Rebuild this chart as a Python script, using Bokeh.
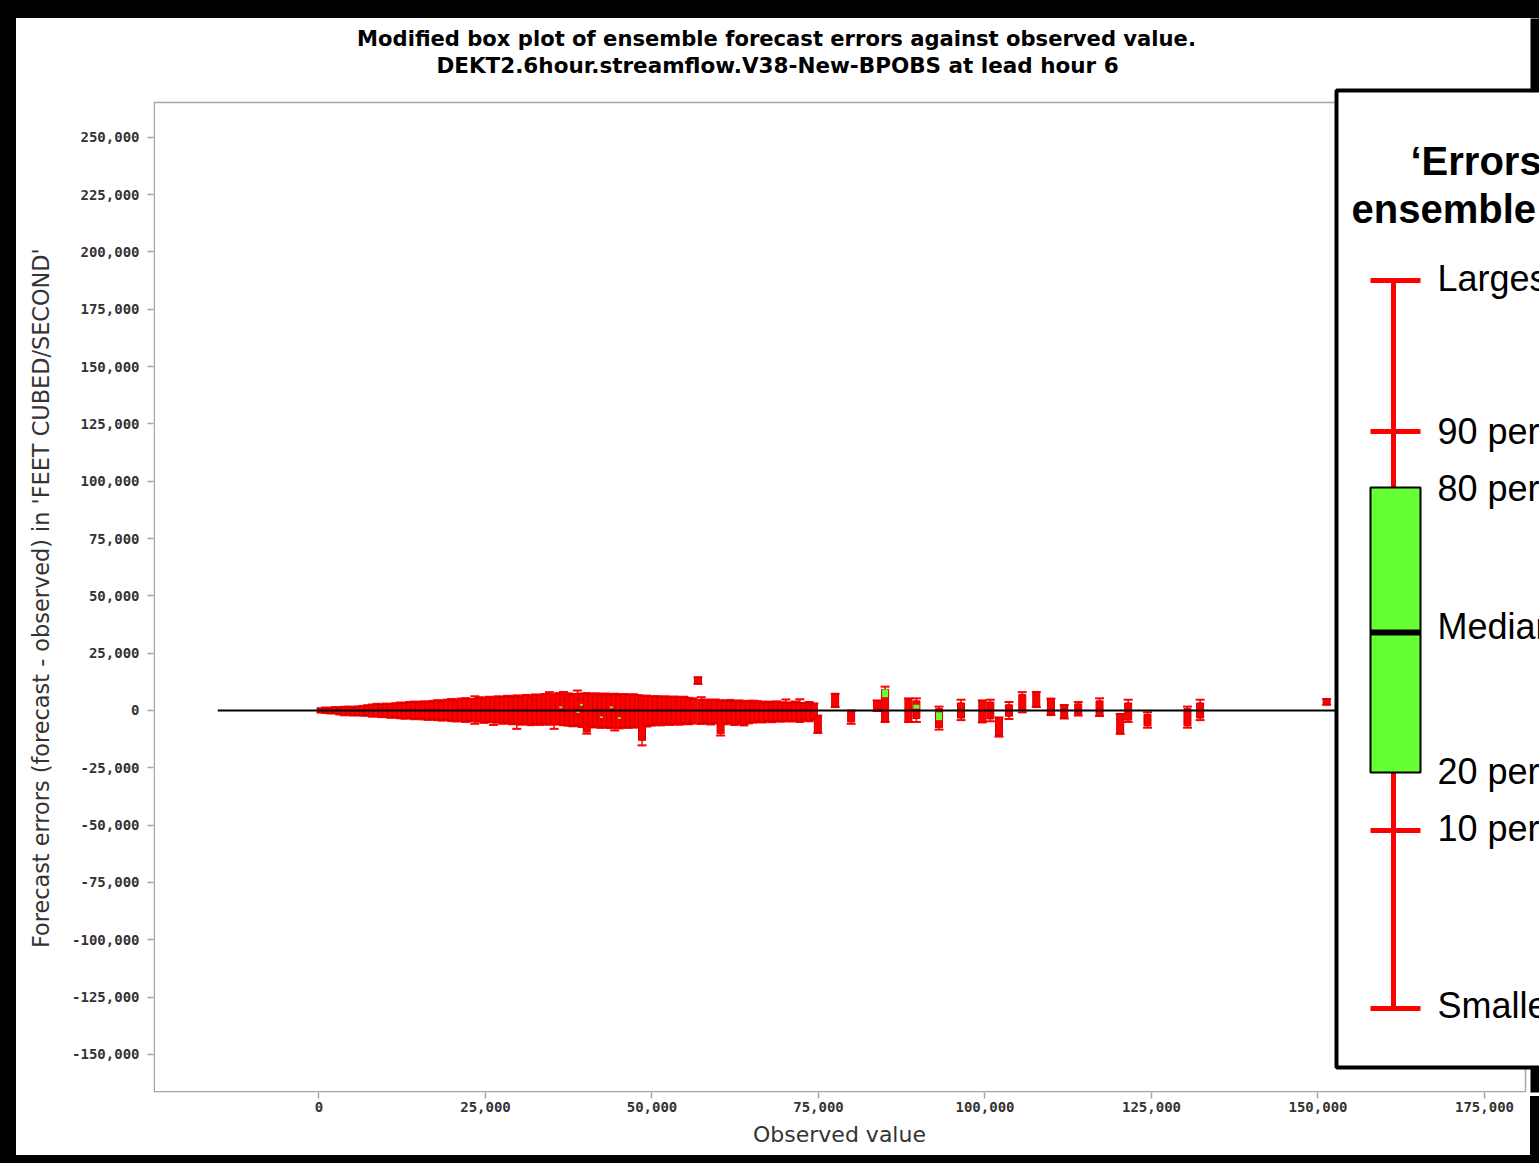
import numpy as np
from bokeh.plotting import figure
from bokeh.layouts import column, row
from bokeh.models import (Range1d, FixedTicker, NumeralTickFormatter, BoxAnnotation,
                          Label, ColumnDataSource, Div)
from bokeh.embed import file_html
from bokeh.resources import INLINE

# ---------------------------------------------------------------------------
# Data: one modified box per observed flow (cfs); spread of ensemble errors
# ---------------------------------------------------------------------------
obs = [
    300, 1000, 1700, 2400, 3100, 3800, 4500, 5200, 5900, 6600,
    7300, 8000, 8700, 9400, 10100, 10800, 11500, 12200, 12900, 13600,
    14300, 15000, 15700, 16400, 17100, 17800, 18500, 19200, 19900, 20600,
    21300, 22000, 22700, 23400, 24100, 24800, 25500, 26200, 26900, 27600,
    28300, 29000, 29700, 30400, 31100, 31800, 32500, 33200, 33900, 34600,
    35300, 36000, 36700, 37400, 38100, 38800, 39500, 40200, 40900, 41600,
    42300, 43000, 43700, 44400, 45100, 45800, 46500, 47200, 47900, 48500,
    49200, 49900, 50600, 51300, 52000, 52700, 53400, 54100, 54800, 55500,
    56200, 56900, 57400, 58100, 58800, 59500, 60300, 61000, 61700, 62400,
    63100, 63800, 64500, 65200, 65900, 66600, 67300, 68000, 68700, 69400,
    70100, 70800, 71500, 72200, 72900, 73600, 74300, 74900,
    77500, 79900, 83800, 85000, 88500, 89700, 93100, 96400, 99600, 100800,
    102100, 103600, 105600, 107700, 109900, 111900, 114000, 117200, 120300, 121500,
    124400, 130400, 132300, 151300,
]
err_max = [
    1000, 1300, 1100, 1500, 1400, 1600, 1700, 1500, 1800, 2000,
    2300, 2600, 2900, 2600, 3000, 2800, 3200, 3500, 3300, 3700,
    3900, 3600, 4000, 3800, 4200, 4500, 4300, 4700, 5000, 4600,
    5200, 5400, 5000, 6200, 5800, 5300, 6000, 5700, 6200, 5900,
    6400, 6100, 6600, 6300, 6800, 6500, 7000, 6700, 7200, 8000,
    7100, 7600, 8100, 7500, 7200, 8700, 7400, 7600, 7300, 7500,
    7200, 7400, 7100, 7300, 7000, 7200, 6900, 7100, 6700, 6400,
    6500, 6100, 6300, 6000, 6200, 5900, 6100, 5800, 6000, 5500,
    5300, 14500, 5800, 4800, 4600, 4800, 4500, 4300, 4600, 4100,
    4400, 3900, 4200, 4300, 4100, 3600, 3900, 3700, 4000, 3600,
    4800, 3500, 3900, 4900, 3300, 3700, 3100, -2200,
    7300, 0, 4400, 10400, 5300, 5300, 1700, 4700, 4400, 4700,
    -3000, 3700, 8000, 8100, 5200, 2400, 3700, 5300, -1500, 4700,
    -800, 1700, 4700, 5000,
]
err_q80 = [
    800, 1100, 900, 1300, 1200, 1400, 1500, 1300, 1600, 1800,
    2100, 2300, 2600, 2400, 2700, 2500, 2900, 3200, 3000, 3400,
    3600, 3300, 3700, 3500, 3900, 4200, 4000, 4400, 4600, 4300,
    4800, 5000, 4700, 5200, 5500, 5000, 5700, 5400, 5900, 5600,
    6100, 5800, 6300, 6000, 6500, 6200, 6700, 6400, 6900, 7200,
    6800, 7300, 7000, 7200, 6900, 7400, 7100, 7300, 7000, 7200,
    6900, 7100, 6800, 7000, 6700, 6900, 6600, 6800, 6400, 6100,
    6200, 5800, 6000, 5700, 5900, 5600, 5800, 5500, 5700, 5200,
    5000, 14500, 4800, 4500, 4300, 4500, 4200, 4000, 4300, 3800,
    4100, 3600, 3900, 3500, 3800, 3300, 3600, 3400, 3700, 3300,
    3500, 3200, 3600, 3300, 3000, 3400, 2800, -2500,
    7000, -300, 4200, 9200, 5000, 4200, 800, 3300, 4200, 3700,
    -3300, 2500, 7000, 7900, 5000, 2200, 2900, 4200, -1700, 3300,
    -1700, 800, 3300, 5000,
]
err_q20 = [
    -700, -900, -1100, -1000, -1400, -1900, -1600, -2000, -1800, -2100,
    -1900, -2400, -2200, -2600, -2500, -2900, -2700, -3100, -3300, -3000,
    -3500, -3300, -3600, -3800, -3500, -3900, -4100, -3800, -4300, -4500,
    -4200, -4700, -4400, -4900, -4600, -5100, -4800, -5300, -5000, -5500,
    -5200, -5700, -5400, -5900, -5600, -6100, -5800, -6000, -5700, -5900,
    -6200, -5800, -6100, -6300, -6600, -6400, -6900, -9400, -7100, -6800,
    -7300, -7000, -7400, -7200, -7500, -7100, -7300, -6900, -7200, -13000,
    -6700, -6300, -6000, -6200, -5800, -6000, -5700, -5900, -5500, -5700,
    -5400, 11600, -5600, -5300, -5800, -5400, -10000, -5700, -5200, -6000,
    -5500, -6200, -5300, -5000, -4600, -4900, -4400, -4800, -4300, -4600,
    -4100, -4500, -4200, -4700, -4000, -4400, -3800, -9500,
    1700, -5000, 0, -5000, -5000, -3500, -7500, -3300, -5000, -3700,
    -10900, -2500, 0, 1700, -1700, -3300, -1700, -2200, -10000, -4200,
    -6700, -6700, -3300, 2500,
]
err_min = [
    -900, -1100, -1300, -1200, -1700, -2100, -1900, -2200, -2000, -2300,
    -2200, -2700, -2500, -2900, -2800, -3200, -3000, -3400, -3600, -3300,
    -3800, -3600, -3900, -4100, -3800, -4200, -4400, -4100, -4600, -4800,
    -4500, -5000, -4700, -5800, -4900, -5400, -5100, -6300, -5300, -5800,
    -5500, -6000, -8000, -6200, -5900, -6400, -6100, -6300, -6000, -6200,
    -8000, -6100, -6400, -6600, -6900, -6700, -7200, -10100, -7400, -7100,
    -7600, -7300, -7700, -8700, -7800, -7400, -7600, -7200, -7500, -15200,
    -7000, -6600, -6300, -6500, -6100, -6300, -6000, -6200, -5800, -6000,
    -5700, 11600, -5900, -5600, -6100, -5700, -10900, -6000, -5500, -6300,
    -5800, -6500, -5600, -5300, -4900, -5200, -4700, -5100, -4600, -4900,
    -4400, -4800, -4500, -5000, -4300, -4700, -4100, -9800,
    1500, -5800, -200, -5000, -5000, -5000, -8350, -4200, -5200, -4700,
    -11400, -3700, -800, 1500, -2000, -3500, -2200, -2400, -10200, -5000,
    -7500, -7500, -4200, 2500,
]

# interquantile pieces left uncovered by the red boxes
green_obs = [36300, 38900, 39400, 42400, 43900, 45100, 85000, 89700, 93100]
green_lo = [1000, -1100, 2100, -3300, 1000, -3700, 5800, 800, -4200]
green_hi = [1800, -300, 2900, -2500, 1800, -2900, 9200, 2500, -800]

# zero-error reference line
zero_x = [-15200, 185000]
zero_y = [0, 0]

x_ticks = [0, 25000, 50000, 75000, 100000, 125000, 150000, 175000]
y_ticks = [-150000, -125000, -100000, -75000, -50000, -25000, 0, 25000,
           50000, 75000, 100000, 125000, 150000, 175000, 200000, 225000, 250000]

title_lines = ["Modified box plot of ensemble forecast errors against observed value.",
               "DEKT2.6hour.streamflow.V38-New-BPOBS at lead hour 6"]
x_label = "Observed value"
y_label = "Forecast errors (forecast - observed) in 'FEET CUBED/SECOND'"
key_title = ["\u2018Errors for each", "ensemble forecast\u2019"]
key_labels = ["Largest", "90 percentile", "80 percentile", "Median",
              "20 percentile", "10 percentile", "Smallest"]

# ---------------------------------------------------------------------------
# Page geometry (canvas pixels of the whole page)
# ---------------------------------------------------------------------------
PAGE_W, PAGE_H = 1539, 1163
EDGE_L, EDGE_T, EDGE_B, EDGE_R = 16, 18, 8, 9   # dark surround
FIG_W, FIG_H = PAGE_W - EDGE_L, PAGE_H - EDGE_T - EDGE_B
FL, FT, FR, FB = 153, EDGE_T, PAGE_W, 1092  # drawing frame on the page
BOX_L, BOX_T, BOX_R, BOX_B = 153, 102, 1525, 1092   # grey plot border

RED = "#ff0000"
EDGE = "#cc0000"
GREEN = "#66ff33"
AXIS_GREY = "#a6a6a6"
NBSP = "\u00a0"

p = figure(width=FIG_W, height=FIG_H, output_backend="svg", toolbar_location=None,
           x_range=Range1d(-24850, 183260), y_range=Range1d(-166580, 301760),
           min_border_left=FL - EDGE_L, min_border_right=0,
           min_border_top=0, min_border_bottom=PAGE_H - EDGE_B - FB,
           background_fill_color="white", border_fill_color="white")
p.title.visible = False
# page-pixel ranges for the furniture (border, key, titles)
p.extra_x_ranges = {"px": Range1d(FL, FR)}
p.extra_y_ranges = {"px": Range1d(FB, FT)}

p.grid.visible = False
p.outline_line_color = None

# labels are padded so that they sit centred on the grey plot border
p.xaxis.axis_label = x_label + NBSP * 2
p.yaxis.axis_label = y_label + NBSP * 12
p.xaxis.ticker = FixedTicker(ticks=x_ticks)
p.yaxis.ticker = FixedTicker(ticks=y_ticks)
for ax in (p.xaxis[0], p.yaxis[0]):
    ax.formatter = NumeralTickFormatter(format="0,0")
    ax.axis_line_color = None
    ax.major_tick_line_color = AXIS_GREY
    ax.major_tick_line_width = 1.5
    ax.major_tick_out = 6
    ax.major_tick_in = 0
    ax.minor_tick_line_color = None
    ax.major_label_text_font = "DejaVu Sans Mono"
    ax.major_label_text_font_style = "bold"
    ax.major_label_text_font_size = "14px"
    ax.major_label_text_color = "#333333"
    ax.axis_label_text_font = "DejaVu Sans"
    ax.axis_label_text_font_style = "normal"
    ax.axis_label_text_font_size = "22px"
    ax.axis_label_text_color = "#333333"
p.yaxis.axis_label_text_font_size = "22.4px"
p.yaxis.major_label_standoff = 8
p.yaxis.axis_label_standoff = 15
p.xaxis.major_label_standoff = 3
p.xaxis.axis_label_standoff = 7


def px_box(left, top, right, bottom, fill, line=None, lw=0, level="overlay"):
    p.add_layout(BoxAnnotation(left=left, right=right, top=top, bottom=bottom,
                               x_range_name="px", y_range_name="px",
                               fill_color=fill, fill_alpha=1.0,
                               line_color=line, line_alpha=1.0, line_width=lw,
                               level=level))


def px_text(x, y, text, size, bold=False, font="Liberation Sans",
            align="left", color="black"):
    p.add_layout(Label(x=x, y=y, x_range_name="px", y_range_name="px",
                       text=text, text_font=font, text_font_size=size,
                       text_font_style="bold" if bold else "normal",
                       text_align=align, text_baseline="middle",
                       text_color=color, level="overlay"))


# grey plot border
px_box(BOX_L + 0.75, BOX_T, BOX_R, BOX_B - 0.75, None, line=AXIS_GREY, lw=1.5,
       level="underlay")

# ---------------------------------------------------------------------------
# Box plots
# ---------------------------------------------------------------------------
q20 = np.array(err_q20, dtype=float)
q80 = np.array(err_q80, dtype=float)
src = ColumnDataSource(dict(obs=obs, lo=err_min, hi=err_max,
                            mid=(q20 + q80) / 2, span=q80 - q20))

p.segment(x0="obs", y0="lo", x1="obs", y1="hi", source=src,
          line_color=RED, line_width=1.5)
for end in ("lo", "hi"):
    p.rect(x="obs", y=end, width=9, height=2, width_units="screen",
           height_units="screen", source=src, fill_color=RED, line_color=None)
p.rect(x="obs", y="mid", width=7, height="span", width_units="screen",
       source=src, fill_color=RED, line_color=EDGE, line_width=1)

g_lo = np.array(green_lo, dtype=float)
g_hi = np.array(green_hi, dtype=float)
g_obs = np.array(green_obs, dtype=float)
gsrc = ColumnDataSource(dict(obs=g_obs, mid=(g_lo + g_hi) / 2, span=g_hi - g_lo,
                             w=np.where(g_obs > 75000, 6, 3)))
p.rect(x="obs", y="mid", width="w", height="span", width_units="screen",
       source=gsrc, fill_color=GREEN, line_color=None)

p.line(zero_x, zero_y, line_color="black", line_width=2)

# ---------------------------------------------------------------------------
# Titles, right-hand surround and key
# ---------------------------------------------------------------------------
px_text(776, 38, title_lines[0], "21.1px", bold=True, font="DejaVu Sans",
        align="center")
px_text(777, 65, title_lines[1], "21.5px", bold=True, font="DejaVu Sans",
        align="center")

px_box(PAGE_W - EDGE_R, 0, PAGE_W + 20, 1100, "black")

px_box(1336, 90, PAGE_W + 20, 1067, "white", line="black", lw=4)
px_text(1410, 160, key_title[0], "40px", bold=True)
px_text(1351, 208, key_title[1], "40px", bold=True)

WX = 1393            # whisker centre in the key
BX0, BX1 = 1370, 1420
px_box(WX - 2.5, 280, WX + 2.5, 1008, RED)
for yy in (280, 431, 830, 1008):
    px_box(BX0, yy - 2.5, BX1, yy + 2.5, RED)
px_box(BX0, 487, BX1, 772, GREEN, line="black", lw=2)
px_box(BX0, 629, BX1, 635, "black")

for yy, txt in zip((278, 431, 488, 626, 771, 828, 1005), key_labels):
    px_text(1437, yy, txt, "36px")

# ---------------------------------------------------------------------------
# Dark surround strips and page assembly
# ---------------------------------------------------------------------------
dark = {"background-color": "black"}
top_strip = Div(width=PAGE_W, height=EDGE_T, margin=0, styles=dark)
left_strip = Div(width=EDGE_L, height=FIG_H, margin=0, styles=dark)
# the bottom strip also closes the surround beside the x-axis area
notch_h = PAGE_H - EDGE_B - FB
notch = ('<div style="position:relative;width:%dpx;height:%dpx;">'
         '<div style="position:absolute;left:%dpx;top:-%dpx;width:%dpx;'
         'height:%dpx;background:black;z-index:50;"></div></div>'
         % (PAGE_W, EDGE_B, PAGE_W - EDGE_R, notch_h, EDGE_R, notch_h))
bottom_strip = Div(text=notch, width=PAGE_W, height=EDGE_B, margin=0, styles=dark)
page = column(top_strip, row(left_strip, p, spacing=0), bottom_strip, spacing=0)

open("out.html", "w").write(file_html(page, INLINE))
